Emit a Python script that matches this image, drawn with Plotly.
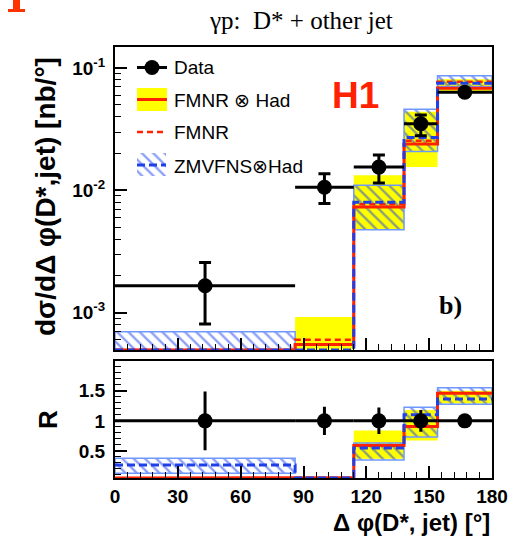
import numpy as np
import plotly.graph_objects as go

# ---------------- data ----------------
bin_edges = [0, 86, 114, 138, 154, 180]
bin_centres = [43, 100, 126, 146, 167]
bin_halfwidths = [43, 14, 12, 8, 13]

data_xsec = [1.66e-3, 1.06e-2, 1.55e-2, 3.50e-2, 6.34e-2]
data_err_up = [0.91e-3, 0.31e-2, 0.40e-2, 0.64e-2, 0.30e-2]
data_err_dn = [0.85e-3, 0.28e-2, 0.40e-2, 0.70e-2, 0.30e-2]

fmnr_had = [0.0, 5.5e-4, 7.3e-3, 2.39e-2, 6.84e-2]
fmnr_had_lo = [0.0, 0.0, 4.8e-3, 1.55e-2, 6.41e-2]
fmnr_had_hi = [0.0, 9.2e-4, 1.33e-2, 4.40e-2, 8.09e-2]
fmnr = [0.0, 6.0e-4, 7.7e-3, 2.55e-2, 7.73e-2]
zmvfns_had = [4.4e-4, 0.0, 8.0e-3, 2.70e-2, 7.50e-2]
zmvfns_had_lo = [2.1e-4, 0.0, 4.77e-3, 2.08e-2, 7.05e-2]
zmvfns_had_hi = [7.0e-4, 0.0, 1.10e-2, 4.60e-2, 8.65e-2]

ratio_data = [1, 1, 1, 1, 1]
ratio_data_err = [0.49, 0.235, 0.22, 0.18, 0.05]
ratio_fmnr_had = [0.0, 0.06, 0.59, 0.905, 1.457]
ratio_fmnr_had_lo = [0.0, 0.06, 0.37, 0.675, 1.29]
ratio_fmnr_had_hi = [0.0, 0.06, 0.84, 1.18, 1.50]
ratio_zmvfns_had = [0.267, 0.0, 0.55, 1.10, 1.363]
ratio_zmvfns_had_lo = [0.128, 0.0, 0.35, 0.73, 1.275]
ratio_zmvfns_had_hi = [0.378, 0.0, 0.63, 1.226, 1.55]

x_ticks = [0, 30, 60, 90, 120, 150, 180]
y_ticks_top = [1e-3, 1e-2, 1e-1]
y_ticktext_top = ["10<sup>-3</sup>", "10<sup>-2</sup>", "10<sup>-1</sup>"]
y_ticks_ratio = [0.5, 1, 1.5]
y_ticktext_ratio = ["0.5", "1", "1.5"]

legend_labels = ["Data", "FMNR \u2297 Had", "FMNR", "ZMVFNS\u2297Had"]

# ---------------- styles / layout constants ----------------
W, H = 519, 537
ML, MR, MT, MB = 115, 27, 47, 59
PW, PH = W - ML - MR, H - MT - MB
TOP_LOG = (-3.305, -0.828)
RATIO_RANGE = (0.05, 2.0)
UP_DOM = ((H - MB - 350) / PH, 1.0)
LO_DOM = (0.0, (H - MB - 360.7) / PH)

RED = "#ff2200"
BLUE = "#1f3fe8"
HATCH = "#1a3ff0"
HATCH_EDGE = "#6f98ff"
YELLOW = "#ffff00"
SANS = "Liberation Sans"
SERIF = "Liberation Serif"
PATTERN = dict(shape="\\", fgcolor=HATCH, bgcolor="rgba(0,0,0,0)", size=8, solidity=0.3)


def px(x):
    return (x - ML) / PW


def py(y):
    return (H - MB - y) / PH


def step(edges, vals, lo, hi):
    xs, ys = [], []
    for i, v in enumerate(vals):
        v = min(max(v, lo), hi)
        xs += [edges[i], edges[i + 1]]
        ys += [v, v]
    return xs, ys


def rects(edges, lows, highs, lo, hi):
    xs, ys = [], []
    for i in range(len(lows)):
        a = min(max(lows[i], lo), hi)
        b = min(max(highs[i], lo), hi)
        if b - a <= 0:
            continue
        x0, x1 = edges[i], edges[i + 1]
        xs += [x0, x1, x1, x0, x0, None]
        ys += [a, a, b, b, a, None]
    return xs, ys


fig = go.Figure()

panels = [
    dict(xa="x", ya="y", lo=10 ** TOP_LOG[0], hi=10 ** TOP_LOG[1],
         central=fmnr_had, blo=fmnr_had_lo, bhi=fmnr_had_hi, dashed=fmnr,
         z=zmvfns_had, zlo=zmvfns_had_lo, zhi=zmvfns_had_hi,
         d=data_xsec, dup=data_err_up, ddn=data_err_dn, cap=6),
    dict(xa="x2", ya="y2", lo=RATIO_RANGE[0], hi=RATIO_RANGE[1],
         central=ratio_fmnr_had, blo=ratio_fmnr_had_lo, bhi=ratio_fmnr_had_hi, dashed=None,
         z=ratio_zmvfns_had, zlo=ratio_zmvfns_had_lo, zhi=ratio_zmvfns_had_hi,
         d=ratio_data, dup=ratio_data_err, ddn=ratio_data_err, cap=0),
]

for p in panels:
    lo, hi = p["lo"], p["hi"]
    # yellow band
    bx, by = rects(bin_edges, p["blo"], p["bhi"], lo, hi)
    fig.add_trace(go.Scatter(x=bx, y=by, xaxis=p["xa"], yaxis=p["ya"], mode="lines",
                             fill="toself", fillcolor=YELLOW, line=dict(width=0),
                             showlegend=False, hoverinfo="skip"))
    # hatched band
    hx, hy = rects(bin_edges, p["zlo"], p["zhi"], lo, hi)
    fig.add_trace(go.Scatter(x=hx, y=hy, xaxis=p["xa"], yaxis=p["ya"], mode="lines",
                             fill="toself", fillcolor="rgba(0,0,0,0)", fillpattern=PATTERN,
                             line=dict(color=HATCH_EDGE, width=1.5),
                             showlegend=False, hoverinfo="skip"))
    # red solid
    sx, sy = step(bin_edges, p["central"], lo, hi)
    fig.add_trace(go.Scatter(x=sx, y=sy, xaxis=p["xa"], yaxis=p["ya"], mode="lines",
                             line=dict(color=RED, width=3), showlegend=False))
    # red dashed
    if p["dashed"] is not None:
        sx, sy = step(bin_edges, p["dashed"], lo, hi)
        fig.add_trace(go.Scatter(x=sx, y=sy, xaxis=p["xa"], yaxis=p["ya"], mode="lines",
                                 line=dict(color=RED, width=2.5, dash="6px,4px"), showlegend=False))
    # blue dashed
    sx, sy = step(bin_edges, p["z"], lo, hi)
    fig.add_trace(go.Scatter(x=sx, y=sy, xaxis=p["xa"], yaxis=p["ya"], mode="lines",
                             line=dict(color=BLUE, width=3, dash="8px,4px"), showlegend=False))
    # data
    fig.add_trace(go.Scatter(
        x=bin_centres, y=p["d"], xaxis=p["xa"], yaxis=p["ya"], mode="markers",
        marker=dict(color="black", size=15),
        error_x=dict(type="data", array=bin_halfwidths, color="black", thickness=3, width=0),
        error_y=dict(type="data", array=p["dup"], arrayminus=p["ddn"], color="black",
                     thickness=3, width=p["cap"]),
        showlegend=False))

# ---------------- legend (drawn in a pixel-coordinate overlay) ----------------
L = dict(xaxis="x3", yaxis="y3", showlegend=False, hoverinfo="skip")
fig.add_trace(go.Scatter(x=[137, 167], y=[67.5, 67.5], mode="lines",
                         line=dict(color="black", width=3), **L))
fig.add_trace(go.Scatter(x=[152], y=[67.5], mode="markers",
                         marker=dict(color="black", size=15), **L))
fig.add_trace(go.Scatter(x=[137, 167, 167, 137, 137], y=[88, 88, 111, 111, 88], mode="lines",
                         fill="toself", fillcolor=YELLOW, line=dict(width=0), **L))
fig.add_trace(go.Scatter(x=[137, 167], y=[99.5, 99.5], mode="lines",
                         line=dict(color=RED, width=3), **L))
fig.add_trace(go.Scatter(x=[137, 167], y=[132, 132], mode="lines",
                         line=dict(color=RED, width=2.5, dash="6px,4px"), **L))
fig.add_trace(go.Scatter(x=[137, 166, 166, 137, 137], y=[153, 153, 176, 176, 153], mode="lines",
                         fill="toself", fillcolor="rgba(0,0,0,0)", fillpattern=PATTERN,
                         line=dict(width=0), **L))
fig.add_trace(go.Scatter(x=[137, 166], y=[165, 165], mode="lines",
                         line=dict(color=BLUE, width=3, dash="8px,4px"), **L))

ann = []
for lab, yy in zip(legend_labels, [67.5, 100, 132, 166]):
    ann.append(dict(x=172, y=yy, xref="x3", yref="y3", text=lab, showarrow=False,
                    xanchor="left", yanchor="middle",
                    font=dict(family=SANS, size=19, color="black")))

ann.append(dict(x=355, y=95, xref="x3", yref="y3", text="H1", showarrow=False,
                xanchor="center", yanchor="middle",
                font=dict(family=SANS, size=37, color=RED, weight="bold")))
ann.append(dict(x=450, y=305, xref="x3", yref="y3", text="b)", showarrow=False,
                xanchor="center", yanchor="middle",
                font=dict(family=SERIF, size=26, color="black", weight="bold")))
ann.append(dict(x=px(301), y=py(21), xref="paper", yref="paper", text="\u03b3p:  D* + other jet",
                showarrow=False, xanchor="center", yanchor="middle",
                font=dict(family=SERIF, size=25, color="black")))
ann.append(dict(x=px(46), y=py(197), xref="paper", yref="paper",
                text="d\u03c3/d\u0394 \u03c6(D*,jet) [nb/\u00b0]", textangle=-90,
                showarrow=False, xanchor="center", yanchor="middle",
                font=dict(family=SANS, size=28, color="black", weight="bold")))
ann.append(dict(x=px(48), y=py(420), xref="paper", yref="paper", text="R", textangle=-90,
                showarrow=False, xanchor="center", yanchor="middle",
                font=dict(family=SANS, size=26, color="black", weight="bold")))
ann.append(dict(x=px(492), y=py(522), xref="paper", yref="paper",
                text="\u0394 \u03c6(D*, jet) [\u00b0]",
                showarrow=False, xanchor="right", yanchor="middle",
                font=dict(family=SANS, size=24, color="black", weight="bold")))

shapes = [
    dict(type="rect", xref="paper", yref="paper", x0=px(8), x1=px(25), y0=py(12), y1=py(9),
         fillcolor="#ff3300", line=dict(width=0)),
    dict(type="rect", xref="paper", yref="paper", x0=px(13), x1=px(20), y0=py(9), y1=py(-2),
         fillcolor="#ff3300", line=dict(width=0)),
]

tickfont = dict(family=SANS, size=19, color="black", weight="bold")
common_x = dict(range=[0, 180], tickvals=x_ticks, ticks="inside", ticklen=12, tickwidth=1.5,
                tickcolor="black", showline=True, mirror=True, linecolor="black", linewidth=2,
                showgrid=False, zeroline=False,
                minor=dict(dtick=6, tick0=0, ticks="inside", ticklen=6, tickwidth=1,
                           tickcolor="black", showgrid=False))

top_minor = [m * 10 ** e for e in (-4, -3, -2, -1) for m in range(2, 10)]

fig.update_layout(
    width=W, height=H, margin=dict(l=ML, r=MR, t=MT, b=MB, autoexpand=False),
    paper_bgcolor="white", plot_bgcolor="rgba(0,0,0,0)",
    showlegend=False, annotations=ann, shapes=shapes,
    xaxis=dict(domain=[0, 1], anchor="y", showticklabels=False, **common_x),
    yaxis=dict(domain=list(UP_DOM), anchor="x", type="log", range=list(TOP_LOG),
               tickvals=y_ticks_top, ticktext=y_ticktext_top, tickfont=tickfont,
               ticks="inside", ticklen=12, tickwidth=1.5, tickcolor="black",
               ticklabelstandoff=4,
               showline=True, mirror=True, linecolor="black", linewidth=2,
               showgrid=False, zeroline=False,
               minor=dict(tickvals=top_minor, ticks="inside", ticklen=6, tickwidth=1,
                          tickcolor="black", showgrid=False)),
    xaxis2=dict(domain=[0, 1], anchor="y2", showticklabels=True, tickfont=tickfont,
                ticklabelstandoff=0, **common_x),
    yaxis2=dict(domain=list(LO_DOM), anchor="x2", range=list(RATIO_RANGE),
                tickvals=y_ticks_ratio, ticktext=y_ticktext_ratio, tickfont=tickfont,
                ticks="inside", ticklen=12, tickwidth=1.5, tickcolor="black",
                ticklabelstandoff=4,
                showline=True, mirror=True, linecolor="black", linewidth=2,
                showgrid=False, zeroline=False,
                minor=dict(dtick=0.1, tick0=0, ticks="inside", ticklen=6, tickwidth=1,
                           tickcolor="black", showgrid=False)),
    xaxis3=dict(domain=[0, 1], anchor="y3", range=[ML, W - MR], visible=False, fixedrange=True),
    yaxis3=dict(domain=list(UP_DOM), anchor="x3", range=[350, MT], visible=False, fixedrange=True),
)

fig.write_html("out.html", config={"displayModeBar": False},
               post_script="document.body.style.margin='0';document.body.style.padding='0';")
